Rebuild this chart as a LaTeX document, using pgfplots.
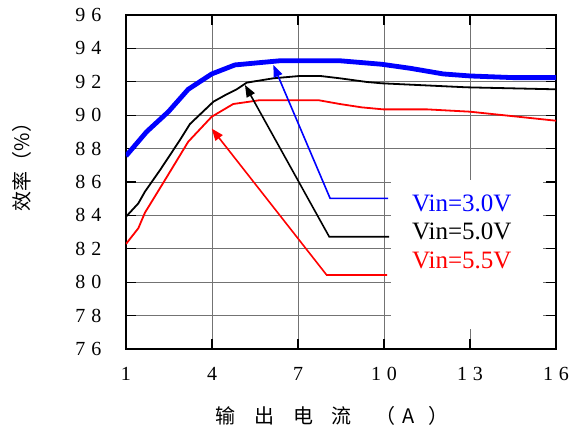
\documentclass[border=0pt]{standalone}
\usepackage{fontspec}
\setmainfont{Liberation Serif}
\newfontfamily\cjk{Noto Sans CJK SC}
\usepackage{pgfplots}
\pgfplotsset{compat=1.18}
\usetikzlibrary{arrows.meta}
\begin{document}
\begin{tikzpicture}
\begin{axis}[
  name=ax, scale only axis, width=430bp, height=334bp,
  xmin=1, xmax=16, ymin=76, ymax=96,
  xtick={1,4,7,10,13,16},
  xticklabels={1,4,7,1\hspace{6bp}0,1\hspace{6bp}3,1\hspace{6bp}6},
  ytick={76,78,...,96},
  yticklabels={7\hspace{6bp}6,7\hspace{6bp}8,8\hspace{6bp}0,8\hspace{6bp}2,8\hspace{6bp}4,8\hspace{6bp}6,8\hspace{6bp}8,9\hspace{6bp}0,9\hspace{6bp}2,9\hspace{6bp}4,9\hspace{6bp}6},
  ticklabel style={font=\fontsize{20bp}{22bp}\selectfont},
  yticklabel style={xshift=-21bp},
  xticklabel style={yshift=-15bp},
  grid=major, grid style={black!55, line width=0.9bp},
  axis line style={line width=2.6bp},
  tick align=inside, major tick length=10bp,
  tick style={black, line width=1.2bp},
  xlabel={\cjk 输\hspace{19bp}出\hspace{19bp}电\hspace{18bp}流\hspace{24bp}（\hspace{7bp}A\hspace{14bp}）},
  every axis x label/.style={at={(rel axis cs:0.5,0)}, anchor=center, yshift=-67bp, xshift=-9bp, font=\fontsize{20bp}{24bp}\selectfont},
  ylabel={\cjk 效率（\%）},
  every axis y label/.style={at={(rel axis cs:0,0.5)}, rotate=90, anchor=center, yshift=104bp, xshift=20bp, font=\fontsize{20bp}{24bp}\selectfont},
]
\fill[white] (axis cs:10.24,77.2) rectangle (axis cs:15.55,86.12);
% Vin=3.0V
\addplot[blue, line width=4.8bp, line join=round] coordinates {
(1,87.56)(1.72,89.01)(2.48,90.21)(3.17,91.55)(3.99,92.47)(4.80,93.01)(6.37,93.26)(8.46,93.26)(9.92,93.05)(10.91,92.81)(12.07,92.47)(13.0,92.35)(14.51,92.25)(16,92.25)};
% Vin=5.0V
\addplot[black, line width=1.8bp, line join=round] coordinates {
(1,83.92)(1.43,84.72)(1.66,85.42)(2.19,86.72)(2.88,88.51)(3.23,89.47)(4.05,90.81)(4.51,91.25)(4.86,91.55)(5.21,91.95)(6.14,92.21)(7.07,92.35)(7.77,92.35)(8.46,92.21)(9.40,91.99)(9.92,91.91)(12.88,91.67)(16,91.55)};
% Vin=5.5V
\addplot[red, line width=1.8bp, line join=round] coordinates {
(1,82.29)(1.43,83.23)(1.66,84.16)(2.36,86.12)(3.17,88.41)(3.99,89.91)(4.74,90.67)(5.67,90.90)(7.71,90.90)(8.46,90.67)(9.22,90.47)(9.97,90.35)(11.49,90.35)(13.0,90.21)(16,89.67)};
% annotation arrows
\addplot[blue, line width=1.6bp, -{Triangle[length=12bp,width=9bp]}] coordinates {(10.14,85.02)(8.12,85.02)(6.14,93.01)};
\addplot[black, line width=1.6bp, -{Triangle[length=12bp,width=9bp]}] coordinates {(10.18,82.72)(8.09,82.72)(5.15,91.81)};
\addplot[red, line width=1.6bp, -{Triangle[length=12bp,width=9bp]}] coordinates {(10.11,80.43)(8.0,80.43)(3.99,89.20)};
\node[blue, anchor=base west, inner sep=0pt, font=\fontsize{25bp}{28bp}\selectfont] at (axis cs:10.97,84.26) {Vin=3.0V};
\node[black, anchor=base west, inner sep=0pt, font=\fontsize{25bp}{28bp}\selectfont] at (axis cs:10.97,82.53) {Vin=5.0V};
\node[red, anchor=base west, inner sep=0pt, font=\fontsize{25bp}{28bp}\selectfont] at (axis cs:10.97,80.85) {Vin=5.5V};
\coordinate (sw) at (rel axis cs:0,0);
\coordinate (ne) at (rel axis cs:1,1);
\end{axis}
\pgfresetboundingbox
\path ([shift={(-126bp,-83bp)}]sw) rectangle ([shift={(16bp,15bp)}]ne);
\end{tikzpicture}
\end{document}
